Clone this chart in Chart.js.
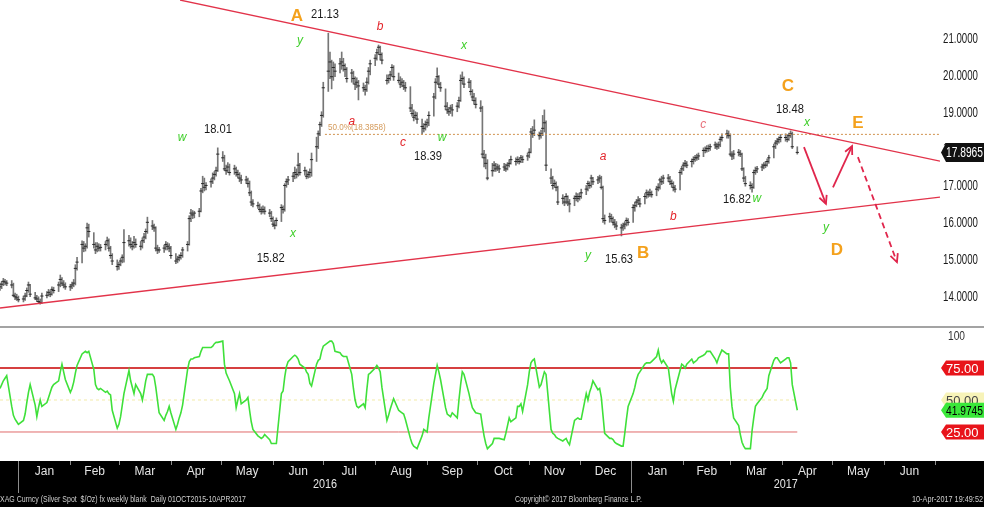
<!DOCTYPE html>
<html lang="en">
<head>
  <meta charset="UTF-8" />
  <title>XAG Curncy - Silver Spot $/Oz</title>
  <script src="https://cdn.jsdelivr.net/npm/chart.js"></script>
  <style>
    html, body { margin: 0; padding: 0; background: #fff; }
    #wrap { position: relative; width: 984px; height: 507px; overflow: hidden; }
    canvas { position: absolute; left: 0; display: block; }
    #price-chart { top: 0; }
    #sep { position: absolute; left: 0; top: 326px; width: 984px; height: 2px; background: #a3a3a3; }
    #stoch-chart { top: 328px; }
  </style>
</head>
<body>
  <div id="wrap">
    <canvas id="price-chart" width="984" height="326"></canvas>
    <div id="sep"></div>
    <canvas id="stoch-chart" width="984" height="179"></canvas>
  </div>

<script>
  const FONT = '"Liberation Sans Narrow", "Arial Narrow", "Liberation Sans", Arial, sans-serif';
  const START = Date.UTC(2015, 11, 21);   // first bar, Mon 21 Dec 2015
  const dayOf = (y, m, d) => (Date.UTC(y, m - 1, d) - START) / 864e5;
  const X_MAX = 561.2;

  // daily bars, Mon..Fri, one week per group
  const highs = [
    14.35,14.40,14.48,14.45,14.42, 14.42,14.35,14.08,14.05,14.00, 14.00,14.08,14.22,14.38,14.32, 14.10,14.02,13.98,13.92,14.08,
    14.12,14.18,14.15,14.25,14.24, 14.38,14.57,14.50,14.42,14.36, 14.32,14.38,14.45,14.85,15.05, 15.50,15.48,15.42,15.98,15.95,
    15.72,15.45,15.45,15.42,15.40, 15.48,15.60,15.55,15.35,15.15, 14.98,14.92,15.02,15.12,15.80, 15.65,15.58,15.48,15.62,15.55,
    15.48,15.58,15.70,15.82,16.14, 16.05,15.95,15.88,15.38,15.32, 15.38,15.48,15.45,15.42,15.35, 15.15,15.08,15.12,15.18,15.32,
    15.48,16.18,16.35,16.32,16.30, 16.38,16.92,17.25,17.20,17.08, 17.18,17.34,17.38,17.50,18.02, 17.92,17.82,17.55,17.62,17.58,
    17.55,17.50,17.42,17.35,17.28, 17.25,17.20,17.12,16.85,16.62, 16.55,16.50,16.42,16.45,16.42, 16.35,16.30,16.15,16.05,16.12,
    16.48,16.45,17.05,17.18,17.25, 17.35,17.50,17.45,17.88,17.60, 17.50,17.42,17.38,17.45,17.88, 18.31,18.48,18.72,19.00,19.80,
    21.13,20.62,20.40,20.35,20.30, 20.45,20.62,20.45,20.30,20.20, 20.15,20.10,19.95,19.92,19.85, 19.78,19.72,19.92,20.20,20.40,
    20.55,20.70,20.81,20.78,20.60, 20.00,20.00,20.10,20.28,20.25, 20.05,19.95,19.90,19.85,19.80, 19.68,19.20,19.05,19.00,18.98,
    18.80,18.68,18.75,18.80,19.00, 19.50,19.90,20.19,19.98,19.80, 19.62,19.25,19.12,19.18,19.20, 19.25,19.40,20.00,20.08,19.95,
    19.90,19.85,19.60,19.50,19.38, 19.30,19.15,17.95,17.85,17.70, 17.60,17.65,17.60,17.58,17.55, 17.60,17.58,17.62,17.70,17.80,
    17.75,17.78,17.75,17.82,17.80, 17.88,18.00,18.55,18.60,18.78, 18.45,18.50,18.90,19.05,18.75, 17.45,17.25,17.15,17.10,16.98,
    16.75,16.70,16.78,16.72,16.62, 16.72,16.80,16.78,16.80,16.90, 17.00,17.12,17.10,17.28,17.22, 17.25,17.28,17.25,16.98,16.20,
    16.25,16.22,16.15,16.08,16.02, 15.95,15.98,16.02,16.12,16.10, 16.48,16.55,16.62,16.70,16.65, 16.78,16.88,16.85,16.90,16.85,
    16.98,17.05,17.20,17.25,17.28, 17.30,17.25,17.15,17.10,17.00, 17.42,17.52,17.62,17.68,17.65, 17.72,17.78,17.82,17.85,17.88,
    18.02,18.05,18.08,18.10,18.12, 18.18,18.15,18.18,18.32,18.40, 18.50,18.48,18.40,17.92,17.95, 17.98,17.95,17.88,17.48,17.25,
    17.10,17.05,17.42,17.50,17.52, 17.58,17.62,17.65,17.72,17.82, 18.12,18.22,18.28,18.32,18.38, 18.40,18.38,18.42,18.48,18.45,
    18.05
  ];
  const lows = [
    14.15,14.20,14.28,14.30,14.28, 14.22,13.98,13.90,13.88,13.84, 13.84,13.88,13.98,14.10,13.98, 13.90,13.85,13.80,13.78,13.80,
    13.95,14.00,13.98,14.02,14.08, 14.12,14.25,14.28,14.22,14.18, 14.15,14.20,14.25,14.30,14.70, 14.90,15.20,15.22,15.30,15.60,
    15.30,15.15,15.20,15.22,15.22, 15.25,15.35,15.22,15.02,14.85, 14.70,14.72,14.82,14.90,14.92, 15.35,15.30,15.25,15.30,15.32,
    15.25,15.30,15.45,15.55,15.70, 15.80,15.75,15.22,15.15,15.18, 15.18,15.25,15.25,15.20,15.02, 14.88,14.90,14.95,15.00,15.05,
    15.22,15.38,16.02,16.10,16.12, 16.15,16.28,16.80,16.85,16.88, 16.95,17.05,17.15,17.25,17.38, 17.65,17.40,17.30,17.35,17.28,
    17.30,17.25,17.20,17.10,17.05, 17.05,16.95,16.72,16.45,16.42, 16.38,16.28,16.22,16.25,16.22, 16.15,16.02,15.88,15.82,15.90,
    16.02,16.25,16.30,16.95,17.02, 17.10,17.18,17.20,17.25,17.28, 17.28,17.18,17.20,17.22,17.25, 17.65,18.00,18.35,18.60,18.85,
    19.55,19.90,19.62,19.85,19.95, 20.05,20.15,20.10,19.95,19.80, 19.80,19.75,19.60,19.65,19.32, 19.55,19.45,19.55,19.75,20.00,
    20.25,20.40,20.55,20.40,20.30, 19.75,19.78,19.85,19.95,19.85, 19.78,19.65,19.68,19.60,19.55, 19.00,18.88,18.75,18.80,18.68,
    18.39,18.45,18.50,18.58,18.62, 18.88,19.35,19.75,19.65,19.55, 19.05,18.95,18.90,18.95,18.88, 19.00,19.10,19.28,19.75,19.65,
    19.65,19.45,19.30,19.20,19.10, 19.00,17.75,17.50,17.45,17.15, 17.25,17.38,17.38,17.40,17.35, 17.40,17.38,17.42,17.50,17.58,
    17.55,17.60,17.58,17.62,17.62, 17.68,17.75,17.88,18.30,18.35, 18.25,18.28,18.35,18.45,17.40, 17.05,16.90,16.95,16.85,16.48,
    16.50,16.45,16.50,16.45,16.28, 16.45,16.58,16.55,16.60,16.65, 16.75,16.85,16.92,16.95,17.02, 17.05,17.08,16.90,16.00,15.95,
    16.00,16.02,15.92,15.85,15.80, 15.63,15.78,15.82,15.90,15.92, 16.00,16.30,16.42,16.48,16.42, 16.50,16.65,16.68,16.70,16.68,
    16.72,16.85,16.90,17.02,17.05, 17.10,17.02,16.95,16.85,16.82, 16.88,17.30,17.40,17.50,17.48, 17.50,17.58,17.65,17.68,17.70,
    17.78,17.88,17.90,17.92,17.95, 18.00,17.98,18.00,18.05,18.20, 18.28,18.28,17.80,17.70,17.72, 17.80,17.78,17.40,17.10,16.98,
    16.90,16.82,16.92,17.30,17.35, 17.40,17.45,17.48,17.52,17.60, 17.75,18.00,18.10,18.15,18.18, 18.20,18.18,18.22,18.30,18.00,
    17.85
  ];
  const closes = [
    14.25,14.32,14.40,14.38,14.35, 14.30,14.02,13.98,13.95,13.90, 13.92,14.00,14.15,14.30,14.05, 13.95,13.92,13.85,13.82,14.00,
    14.02,14.10,14.05,14.18,14.15, 14.30,14.45,14.35,14.30,14.25, 14.25,14.30,14.35,14.75,14.92, 15.40,15.30,15.35,15.85,15.75,
    15.40,15.25,15.35,15.30,15.32, 15.40,15.50,15.30,15.10,14.95, 14.80,14.85,14.95,15.05,15.45, 15.50,15.40,15.35,15.45,15.40,
    15.35,15.50,15.60,15.75,16.00, 15.90,15.85,15.30,15.25,15.25, 15.30,15.40,15.35,15.30,15.10, 14.95,15.00,15.05,15.10,15.25,
    15.40,16.10,16.25,16.20,16.25, 16.30,16.85,17.05,16.95,17.00, 17.10,17.20,17.30,17.40,17.85, 17.75,17.45,17.40,17.50,17.35,
    17.45,17.35,17.30,17.20,17.15, 17.15,17.05,16.80,16.55,16.50, 16.45,16.35,16.30,16.35,16.30, 16.25,16.10,15.95,15.92,16.05,
    16.40,16.35,17.00,17.10,17.15, 17.25,17.35,17.30,17.55,17.35, 17.40,17.25,17.30,17.35,17.70, 18.05,18.40,18.65,18.90,19.65,
    20.10,20.35,19.95,20.20,20.10, 20.30,20.35,20.25,20.15,19.90, 20.05,19.90,19.75,19.80,19.70, 19.65,19.60,19.80,20.10,20.30,
    20.45,20.60,20.75,20.55,20.40, 19.85,19.90,20.00,20.20,19.95, 19.85,19.75,19.80,19.70,19.65, 19.10,18.95,18.85,18.90,18.80,
    18.60,18.55,18.65,18.70,18.90, 19.40,19.80,19.95,19.75,19.65, 19.15,19.05,19.00,19.10,19.05, 19.15,19.30,19.85,19.90,19.75,
    19.80,19.55,19.40,19.30,19.20, 19.10,17.85,17.75,17.60,17.20, 17.40,17.55,17.45,17.50,17.45, 17.50,17.45,17.55,17.60,17.70,
    17.65,17.70,17.65,17.75,17.70, 17.80,17.90,18.45,18.40,18.50, 18.35,18.40,18.55,18.70,17.55, 17.20,17.00,17.05,16.95,16.55,
    16.65,16.55,16.70,16.55,16.50, 16.65,16.70,16.65,16.70,16.80, 16.90,17.05,17.00,17.20,17.10, 17.15,17.20,16.95,16.10,16.05,
    16.15,16.10,16.00,15.95,15.90, 15.85,15.90,15.95,16.05,16.00, 16.40,16.45,16.55,16.60,16.50, 16.70,16.80,16.75,16.80,16.75,
    16.90,16.95,17.15,17.10,17.20, 17.20,17.10,17.05,16.95,16.90, 17.35,17.45,17.55,17.60,17.55, 17.65,17.70,17.75,17.75,17.80,
    17.95,17.95,18.00,18.00,18.05, 18.10,18.05,18.10,18.25,18.30, 18.40,18.35,17.85,17.80,17.85, 17.90,17.85,17.45,17.20,17.05,
    17.00,16.95,17.35,17.40,17.45, 17.50,17.55,17.55,17.65,17.75, 18.05,18.15,18.20,18.25,18.30, 18.30,18.25,18.35,18.40,18.05,
    17.8965
  ];
  const stoch = [
    59,62,65,67,69, 45,38,35,33,31, 34,39,48,56,62, 46,37,44,50,45,
    48,52,56,60,62, 65,72,78,72,66, 56,59,64,71,77, 86,87,88,87,88,
    74,62,59,58,59, 56,57,55,54,42, 28,31,37,46,55, 73,65,60,55,62,
    55,50,57,65,70, 70,68,60,50,40, 34,38,41,45,40, 27,31,36,40,46,
    74,80,82,82,83, 84,88,91,91,91, 91,92,94,95,95, 96,78,71,68,65,
    55,44,50,55,47, 50,52,42,33,27, 22,21,20,21,23, 19,16,16,16,16,
    55,57,68,76,80, 84,85,84,82,78, 75,72,70,63,61, 78,81,82,88,92,
    95,96,96,94,88, 87,85,84,84,84, 70,59,50,45,44, 47,44,58,70,71,
    75,77,75,72,60, 34,38,43,47,51, 42,41,40,39,35, 20,16,14,13,12,
    22,27,26,25,36, 63,70,77,72,66, 44,39,38,37,40, 36,50,62,72,70,
    55,49,44,42,40, 39,30,22,16,12, 16,20,20,20,20, 19,24,30,36,33,
    36,45,45,47,41, 62,72,79,81,82, 60,62,67,72,70, 27,24,23,21,20,
    18,19,20,17,15, 34,35,36,35,35, 55,50,56,60,65, 58,59,52,38,24,
    20,20,19,17,16, 14,14,24,35,45, 55,60,66,70,72, 78,79,79,79,80,
    84,89,82,79,81, 75,65,55,49,58, 73,78,77,75,78, 82,79,80,81,83,
    85,86,88,88,88, 82,79,83,86,89, 86,86,60,45,36, 30,23,17,14,12,
    12,26,36,45,47, 52,55,57,59,69, 81,83,83,81,79, 82,83,83,79,62,
    41.9745
  ];

  const priceTicks = [14, 15, 16, 17, 18, 19, 20, 21];
  const monthLabels = ['Jan','Feb','Mar','Apr','May','Jun','Jul','Aug','Sep','Oct','Nov','Dec',
                       'Jan','Feb','Mar','Apr','May','Jun'];
  const yearLabels = ['2016', '2017'];
  const stochLevels = [75, 50, 25];

  // trend lines, fib level and arrows as [day, price]
  const upperTrend = [[107.5, 22.03], [561.2, 17.66]];
  const lowerTrend = [[0, 13.675], [561.2, 16.686]];
  const fibLevel = 18.3858;
  const fibFrom = 194;
  const arrows = [
    { from: [480.0, 18.04], to: [493.1, 16.50], dashed: false },
    { from: [497.3, 16.95], to: [508.7, 18.07], dashed: false },
    { from: [512.2, 17.77], to: [535.5, 14.92], dashed: true }
  ];
  const notes = [
    ['A', 177.3, 21.60, 'wave'], ['21.13', 194.0, 21.65, 'num'], ['y', 179.1, 20.92, 'green'],
    ['a', 210.1, 18.72, 'red'], ['b', 226.9, 21.30, 'red'], ['c', 240.6, 18.15, 'red'],
    ['18.39', 255.5, 17.80, 'num'], ['w', 263.9, 18.29, 'green'], ['x', 277.0, 20.78, 'green'],
    ['w', 108.7, 18.29, 'green'], ['18.01', 130.1, 18.53, 'num'], ['x', 175.0, 15.68, 'green'],
    ['15.82', 161.6, 15.03, 'num'], ['y', 351.0, 15.09, 'green'], ['15.63', 369.6, 15.00, 'num'],
    ['B', 383.9, 15.17, 'wave'], ['a', 360.0, 17.77, 'red'], ['b', 402.0, 16.14, 'red'],
    ['c', 419.8, 18.64, 'pink'], ['16.82', 440.0, 16.63, 'num'], ['w', 451.9, 16.63, 'green'],
    ['C', 470.4, 19.70, 'wave'], ['18.48', 471.6, 19.07, 'num'], ['x', 481.8, 18.69, 'green'],
    ['E', 512.2, 18.69, 'wave'], ['y', 493.1, 15.85, 'green'], ['D', 499.7, 15.25, 'wave']
  ];
  const noteStyle = {
    wave:  { font: `bold 17px ${FONT}`, color: '#f4a11c' },
    num:   { font: `13px ${FONT}`, color: '#1a1a1a' },
    green: { font: `italic 12px ${FONT}`, color: '#3fcf2a' },
    red:   { font: `italic 12px ${FONT}`, color: '#e3262c' },
    pink:  { font: `italic 12px ${FONT}`, color: '#e8707a' }
  };

  const barDays = closes.map((_, i) => Math.floor(i / 5) * 7 + (i % 5));
  const monthStarts = [];
  for (let k = 0; k <= 18; k++) monthStarts.push(dayOf(2016 + Math.floor(k / 12), (k % 12) + 1, 1));
  const monthMids = monthLabels.map((_, i) => (monthStarts[i] + monthStarts[i + 1]) / 2);
  const yearStarts = [dayOf(2016, 1, 1), dayOf(2017, 1, 1)];
  const lastDay = barDays[barDays.length - 1];

  const TREND = '#e2334a';
  const ARROW = '#e0264c';

  // narrow the sans fallback a bit, the original uses a condensed face
  function narrowText(ctx, text, x, y, squeeze = 0.84) {
    ctx.fillText(text, x, y, ctx.measureText(text).width * squeeze);
  }

  function tag(ctx, x, cy, h, bg, fg, text, font) {
    ctx.beginPath();
    ctx.moveTo(x, cy);
    ctx.lineTo(x + 5, cy - h / 2);
    ctx.lineTo(984, cy - h / 2);
    ctx.lineTo(984, cy + h / 2);
    ctx.lineTo(x + 5, cy + h / 2);
    ctx.closePath();
    ctx.fillStyle = bg;
    ctx.fill();
    ctx.fillStyle = fg;
    ctx.font = font;
    ctx.textAlign = 'left';
    ctx.textBaseline = 'middle';
    ctx.fillText(text, x + 5, cy + 1, 984 - x - 6);
  }

  const priceDecor = {
    id: 'priceDecor',
    afterDatasetsDraw(chart) {
      const { ctx, chartArea, scales: { x, y } } = chart;
      ctx.save();

      ctx.font = `9px ${FONT}`;
      ctx.fillStyle = '#d49a5a';
      ctx.textAlign = 'left';
      ctx.textBaseline = 'middle';
      narrowText(ctx, `50.0%(${fibLevel})`, x.getPixelForValue(195.8), y.getPixelForValue(18.56), 0.9);

      ctx.strokeStyle = ARROW;
      ctx.lineWidth = 1.8;
      arrows.forEach(a => {
        const x1 = x.getPixelForValue(a.from[0]), y1 = y.getPixelForValue(a.from[1]);
        const x2 = x.getPixelForValue(a.to[0]), y2 = y.getPixelForValue(a.to[1]);
        ctx.setLineDash(a.dashed ? [6, 4] : []);
        ctx.beginPath();
        ctx.moveTo(x1, y1);
        ctx.lineTo(x2, y2);
        ctx.stroke();
        ctx.setLineDash([]);
        const ang = Math.atan2(y2 - y1, x2 - x1);
        ctx.beginPath();
        ctx.moveTo(x2 - 9 * Math.cos(ang - 0.45), y2 - 9 * Math.sin(ang - 0.45));
        ctx.lineTo(x2, y2);
        ctx.lineTo(x2 - 9 * Math.cos(ang + 0.45), y2 - 9 * Math.sin(ang + 0.45));
        ctx.stroke();
      });

      ctx.textAlign = 'center';
      notes.forEach(([t, d, p, k]) => {
        ctx.font = noteStyle[k].font;
        ctx.fillStyle = noteStyle[k].color;
        narrowText(ctx, t, x.getPixelForValue(d), y.getPixelForValue(p), k === 'num' ? 0.86 : 1);
      });

      // right price axis labels from the scale's own ticks
      ctx.font = `14px ${FONT}`;
      ctx.fillStyle = '#1a1a1a';
      ctx.textAlign = 'left';
      y.ticks.forEach(t => {
        ctx.fillText(t.value.toFixed(4), chartArea.right + 3, y.getPixelForValue(t.value) + 1, 35);
      });

      const last = closes[closes.length - 1];
      tag(ctx, 941, y.getPixelForValue(last), 19, '#111', '#fff', last.toFixed(4), `14px ${FONT}`);
      ctx.restore();
    }
  };

  const stochDecor = {
    id: 'stochDecor',
    beforeDraw(chart) {
      const { ctx, chartArea, width, height } = chart;
      ctx.save();
      ctx.fillStyle = '#000';
      ctx.fillRect(0, chartArea.bottom, width, height - chartArea.bottom);
      ctx.restore();
    },
    afterDraw(chart) {
      const { ctx, chartArea, scales: { x, y } } = chart;
      const top = chartArea.bottom;
      ctx.save();
      ctx.strokeStyle = '#8c8c8c';
      ctx.lineWidth = 1;
      monthStarts.forEach(d => {
        const px = Math.round(x.getPixelForValue(d)) + 0.5;
        if (px > chartArea.right) return;
        const len = yearStarts.includes(d) ? 32 : 4;
        ctx.beginPath();
        ctx.moveTo(px, top);
        ctx.lineTo(px, top + len);
        ctx.stroke();
      });

      ctx.fillStyle = '#e6e6e6';
      ctx.font = `12px ${FONT}`;
      ctx.textAlign = 'center';
      ctx.textBaseline = 'middle';
      yearLabels.forEach((t, i) => {
        const a = Math.max(chartArea.left, x.getPixelForValue(yearStarts[i]));
        const b = Math.min(chartArea.right, x.getPixelForValue(i + 1 < yearStarts.length ? yearStarts[i + 1] : X_MAX));
        narrowText(ctx, t, (a + b) / 2, top + 24, 0.9);
      });

      ctx.fillStyle = '#cfcfcf';
      ctx.font = `9px ${FONT}`;
      ctx.textAlign = 'left';
      ctx.fillText('XAG Curncy (Silver Spot  $/Oz) fx weekly blank  Daily 01OCT2015-10APR2017', 0, top + 39, 246);
      ctx.fillText('Copyright\u00A9 2017 Bloomberg Finance L.P.', 515, top + 39, 127);
      ctx.textAlign = 'right';
      ctx.fillText('10-Apr-2017 19:49:52', 983, top + 39, 71);

      ctx.fillStyle = '#333';
      ctx.font = `12px ${FONT}`;
      ctx.textAlign = 'left';
      y.ticks.forEach(t => {
        narrowText(ctx, String(t.value), chartArea.right + 8, y.getPixelForValue(t.value) + 1, 0.85);
      });

      const f = `13px ${FONT}`;
      tag(ctx, 941, y.getPixelForValue(stochLevels[0]), 15, '#e8141b', '#fff', stochLevels[0].toFixed(2), f);
      tag(ctx, 941, y.getPixelForValue(stochLevels[1]), 15, '#f7f3b8', '#444', stochLevels[1].toFixed(2), f);
      const lastK = stoch[stoch.length - 1];
      tag(ctx, 941, y.getPixelForValue(lastK), 15, '#3ae83a', '#000', lastK.toFixed(4), f);
      tag(ctx, 941, y.getPixelForValue(stochLevels[2]), 15, '#e8141b', '#fff', stochLevels[2].toFixed(2), f);
      ctx.restore();
    }
  };

  const toXY = pts => pts.map(([x, y]) => ({ x, y }));

  new Chart(document.getElementById('price-chart'), {
    type: 'bar',
    data: {
      datasets: [
        { type: 'line', data: toXY(upperTrend), borderColor: TREND, borderWidth: 1.3, pointRadius: 0, order: 0 },
        { type: 'line', data: toXY(lowerTrend), borderColor: TREND, borderWidth: 1.3, pointRadius: 0, order: 0 },
        { type: 'line', data: toXY([[fibFrom, fibLevel], [X_MAX, fibLevel]]), borderColor: '#d0924e',
          borderWidth: 1, borderDash: [2, 2], pointRadius: 0, order: 1 },
        { type: 'line', data: barDays.map((d, i) => ({ x: d, y: closes[i] })), showLine: false,
          pointStyle: 'line', pointRadius: 1.6, pointBorderWidth: 1, pointBorderColor: '#2a2a2a', order: 2 },
        { type: 'bar', data: barDays.map((d, i) => ({ x: d, y: [lows[i], highs[i]] })),
          backgroundColor: '#767676', borderWidth: 0, barThickness: 1, grouped: false, order: 3 }
      ]
    },
    options: {
      responsive: false,
      animation: false,
      events: [],
      layout: { padding: 0, autoPadding: false },
      plugins: { legend: { display: false }, tooltip: { enabled: false } },
      scales: {
        x: { type: 'linear', min: 0, max: X_MAX, offset: false, display: false },
        y: {
          position: 'right', min: 13.187, max: 22.031,
          grid: { display: false, drawTicks: false }, border: { display: false },
          afterBuildTicks: s => { s.ticks = priceTicks.map(v => ({ value: v })); },
          afterFit: s => { s.width = 44; s.paddingTop = 0; s.paddingBottom = 0; },
          ticks: { display: false }
        }
      }
    },
    plugins: [priceDecor]
  });

  new Chart(document.getElementById('stoch-chart'), {
    type: 'line',
    data: {
      datasets: [
        { data: barDays.map((d, i) => ({ x: d, y: stoch[i] })), borderColor: '#3fe03a', borderWidth: 1.6,
          pointRadius: 0, order: 0 },
        { data: toXY([[0, stochLevels[0]], [lastDay, stochLevels[0]]]), borderColor: '#c80000', borderWidth: 1.5, pointRadius: 0, order: 1 },
        { data: toXY([[0, stochLevels[1]], [lastDay, stochLevels[1]]]), borderColor: '#f2eaa8', borderWidth: 1,
          borderDash: [3, 3], pointRadius: 0, order: 2 },
        { data: toXY([[0, stochLevels[2]], [lastDay, stochLevels[2]]]), borderColor: '#e06a6a', borderWidth: 1, pointRadius: 0, order: 1 }
      ]
    },
    options: {
      responsive: false,
      animation: false,
      events: [],
      layout: { padding: 0, autoPadding: false },
      plugins: { legend: { display: false }, tooltip: { enabled: false } },
      scales: {
        x: {
          type: 'linear', min: 0, max: X_MAX, offset: false,
          grid: { display: false, drawTicks: false }, border: { display: false },
          afterBuildTicks: s => { s.ticks = monthMids.map(v => ({ value: v })); },
          afterFit: s => { s.height = 46; s.paddingLeft = 0; s.paddingRight = 0; },
          ticks: { autoSkip: false, maxRotation: 0, padding: 3, color: '#e4e4e4',
                   font: { family: FONT, size: 12 }, callback: (v, i) => monthLabels[i] }
        },
        y: {
          position: 'right', min: 2.34, max: 106.25,
          grid: { display: false, drawTicks: false }, border: { display: false },
          afterBuildTicks: s => { s.ticks = [{ value: 100 }]; },
          afterFit: s => { s.width = 44; s.paddingTop = 0; s.paddingBottom = 0; },
          ticks: { display: false }
        }
      }
    },
    plugins: [stochDecor]
  });
</script>
</body>
</html>
